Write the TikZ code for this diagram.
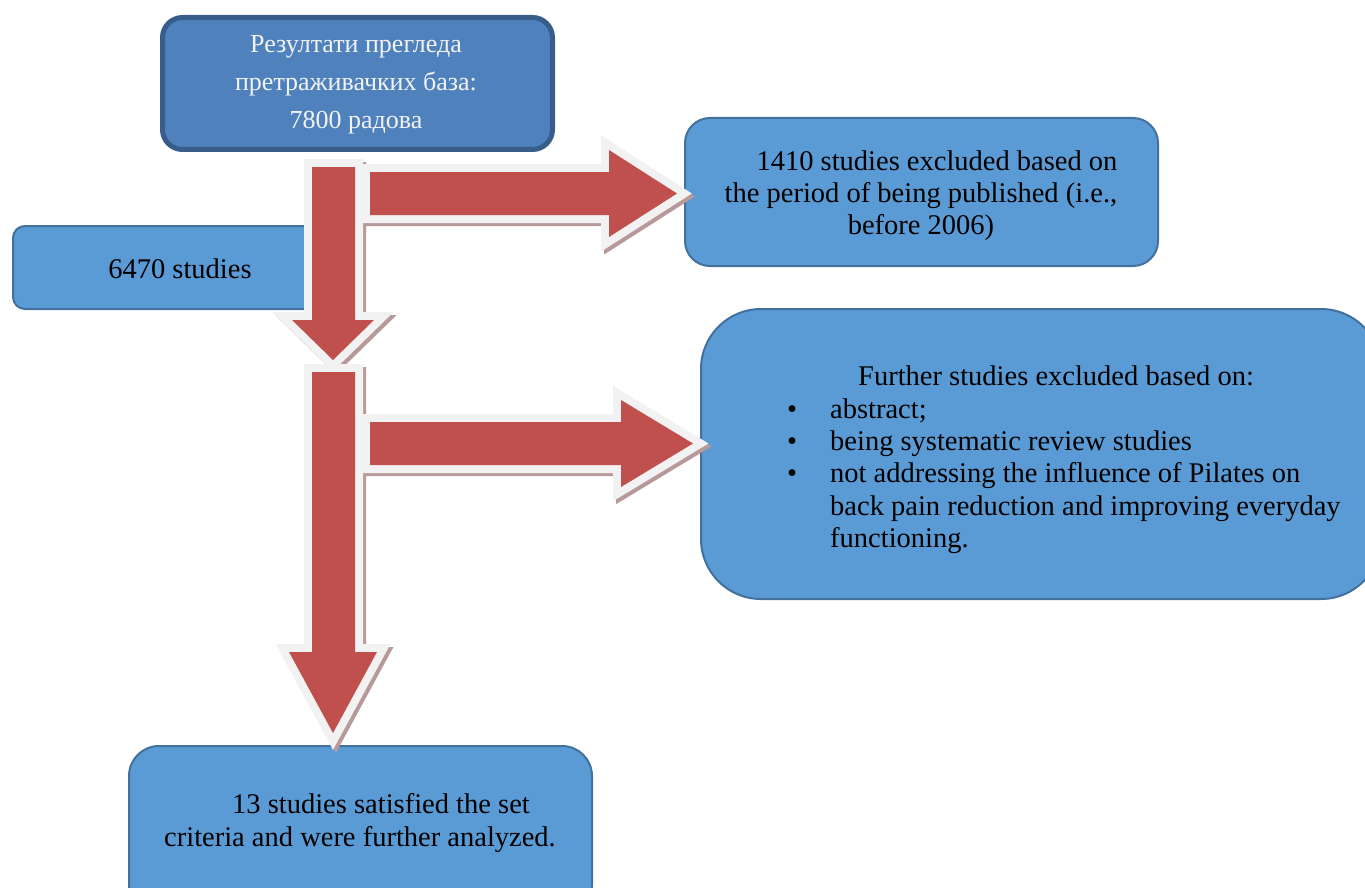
\documentclass[tikz,border=0pt]{standalone}
\usepackage{fontspec}
\setmainfont{Liberation Serif}
\definecolor{topfill}{HTML}{4F81BD}
\definecolor{topedge}{HTML}{385D8A}
\definecolor{boxfill}{HTML}{5B9BD5}
\definecolor{boxedge}{HTML}{41719C}
\definecolor{arrowred}{HTML}{C0504D}
\definecolor{edgegrey}{HTML}{F2F2F2}
\definecolor{shadowc}{HTML}{B79999}
\newcommand\bigbul{\makebox[43pt][l]{\textbullet}}
\begin{document}
\begin{tikzpicture}[x=1pt,y=-1pt,
  lbox/.style={draw=boxedge, line width=2pt, fill=boxfill, inner sep=0pt, anchor=north west},
  tbox/.style={draw=topedge, line width=5pt, fill=topfill, inner sep=0pt, anchor=north west, rounded corners=20pt},
  txt/.style={inner sep=0pt, font=\fontsize{28.5}{32.3}\selectfont, text=black},
  toptxt/.style={inner sep=0pt, font=\fontsize{26}{38}\selectfont, text=edgegrey, align=center},
  blockarrow/.style={draw=edgegrey, line width=16pt, line join=miter, miter limit=3,
     preaction={fill=shadowc, draw=shadowc, line width=16pt, line join=miter, miter limit=3, transform canvas={shift={(3pt,-3pt)}}},
     postaction={fill=arrowred}}
]
\useasboundingbox (0,0) rectangle (1365,888);
\clip (0,0) rectangle (1365,888);
\fill[white] (0,0) rectangle (1365,888);

% boxes
\node[tbox, minimum width=390pt, minimum height=132pt] (top) at (160,15) {};
\node[toptxt] (toptext) at (356,84.5) {Резултати прегледа\\претраживачких база:\\7800 радова};

\node[lbox, rounded corners=12pt, minimum width=308pt, minimum height=83pt] (n6470) at (12,225) {};
\node[txt] (n6470t) at (180,269) {6470 studies};

\node[lbox, rounded corners=25pt, minimum width=473pt, minimum height=148pt] (excl) at (684,117) {};
\node[txt, align=center] (exclt) at (921,195.5) {\hspace*{32pt}1410 studies excluded based on\\the period of being published (i.e.,\\before 2006)};

\node[lbox, rounded corners=60pt, minimum width=680pt, minimum height=290pt] (further) at (700,308) {};
\node[txt, align=left, anchor=north west] (furthert) at (787,366)
  {\hspace*{71pt}Further studies excluded based on:\\
   \bigbul abstract;\\
   \bigbul being systematic review studies\\
   \bigbul not addressing the influence of Pilates on\\
   \hspace*{43pt}back pain reduction and improving everyday\\
   \hspace*{43pt}functioning.};

\node[lbox, rounded corners=30pt, minimum width=463pt, minimum height=170pt] (final) at (128,745) {};
\node[txt, align=center] (finalt) at (360,823) {\hspace*{42pt}13 studies satisfied the set\\criteria and were further analyzed.};

% block arrows
\path[blockarrow] (312,167) -- (355,167) -- (355,320) -- (374,320) -- (333,360) -- (292,320) -- (312,320) -- cycle;
\path[blockarrow] (370,172) -- (609,172) -- (609,150) -- (677,193.5) -- (609,237) -- (609,215) -- (370,215) -- cycle;
\path[blockarrow] (312,372) -- (355,372) -- (355,652) -- (377,652) -- (333,733) -- (289,652) -- (312,652) -- cycle;
\path[blockarrow] (370,422) -- (621,422) -- (621,400) -- (693,443.5) -- (621,487) -- (621,465) -- (370,465) -- cycle;
\end{tikzpicture}
\end{document}
